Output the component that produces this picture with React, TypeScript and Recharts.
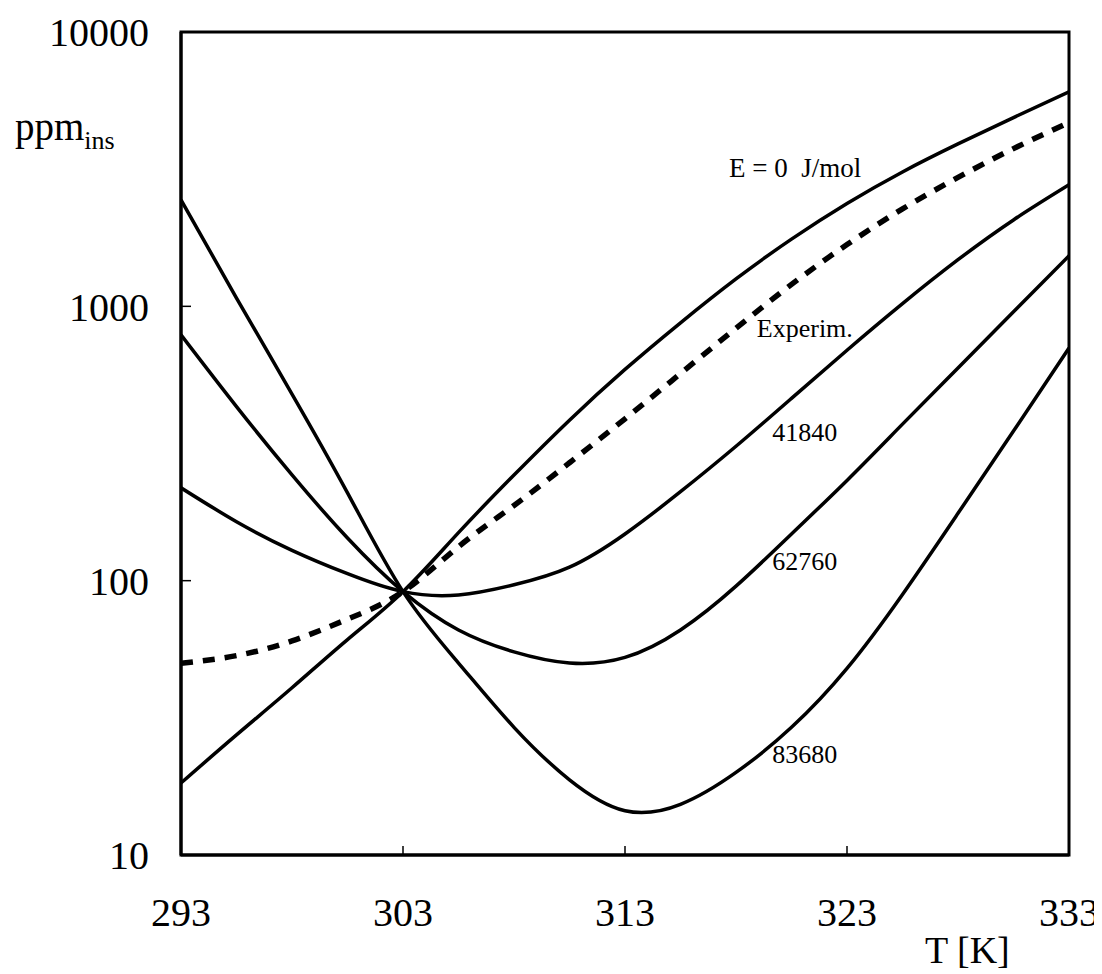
import React from 'react';
import { LineChart, Line, XAxis, YAxis, ReferenceArea, ReferenceDot } from 'recharts';

const temps = [293, 295.5, 298, 300.5, 303, 305.5, 308, 310.5, 313, 315.5, 318, 320.5, 323, 325.5, 328, 330.5, 333];
const e0 = [18.3, 27.4, 40.7, 61, 91.2, 149.6, 242.7, 384.6, 588.8, 871, 1259, 1758, 2371, 3090, 3908, 4875, 6053];
const experim = [50, 53.3, 60.3, 72.4, 91.2, 133, 188, 269, 389, 569, 832, 1202, 1679, 2265, 2951, 3758, 4677];
const e41840 = [218, 164, 129, 106, 91.2, 88.7, 96.6, 112, 148, 211, 309, 462, 692, 1023, 1479, 2065, 2773];
const e62760 = [787, 431, 243, 143, 91.2, 66.1, 55, 50.1, 52.5, 66.1, 95.5, 148, 232, 372, 596, 955, 1528];
const e83680 = [2443, 1072, 479, 209, 91.2, 50.1, 29.2, 18.8, 14.5, 15.3, 20, 29.2, 47.9, 89.1, 176, 351, 705];

const xTicks = [293, 303, 313, 323, 333];
const yTicks = [10, 100, 1000, 10000];

const data = temps.map((t, i) => ({
  T: t,
  e0: e0[i],
  experim: experim[i],
  e41840: e41840[i],
  e62760: e62760[i],
  e83680: e83680[i],
}));

const FONT = '"Liberation Serif", "Times New Roman", serif';

const YLabel = (props: any) => {
  const vb = props.viewBox || { x: 0, y: 0 };
  return (
    <text x={vb.x + 7} y={vb.y + 108} fontFamily={FONT} fontSize={39} fill="#000">
      ppm
      <tspan fontSize={26} dy={9}>ins</tspan>
    </text>
  );
};

const XLabel = (props: any) => {
  const vb = props.viewBox || { x: 0, y: 0 };
  return (
    <text x={vb.x + 744} y={vb.y + 108} fontFamily={FONT} fontSize={38} fill="#000">
      T [K]
    </text>
  );
};

const lbl = (value: string, size: number) => ({
  value,
  position: 'center' as const,
  fontSize: size,
  fill: '#000',
  fontFamily: FONT,
});

export default function App() {
  return (
    <LineChart
      width={1094}
      height={966}
      data={data}
      margin={{ top: 24, right: 33, bottom: 0, left: 0 }}
      style={{ fontFamily: FONT }}
    >
      <XAxis
        dataKey="T"
        type="number"
        domain={[293, 333]}
        ticks={xTicks}
        allowDataOverflow
        height={119}
        stroke="#000"
        strokeWidth={3}
        tickSize={-9}
        tickMargin={52}
        tick={{ fill: '#000', fontSize: 40, fontFamily: FONT }}
        tickLine={{ stroke: '#000', strokeWidth: 1.5 }}
        label={<XLabel />}
      />
      <YAxis
        type="number"
        scale="log"
        domain={[10, 10000]}
        ticks={yTicks}
        allowDataOverflow
        width={173}
        stroke="#000"
        strokeWidth={3}
        tickSize={-10}
        tickMargin={42}
        tick={{ fill: '#000', fontSize: 40, fontFamily: FONT }}
        tickLine={{ stroke: '#000', strokeWidth: 1.5 }}
        label={<YLabel />}
      />
      <ReferenceArea x1={293} x2={333} y1={10} y2={10000} fill="none" stroke="#000" strokeWidth={3} />
      <Line type="natural" dataKey="e0" stroke="#000" strokeWidth={3.5} dot={false} isAnimationActive={false} />
      <Line type="natural" dataKey="experim" stroke="#000" strokeWidth={5.5} strokeDasharray="12 10" dot={false} isAnimationActive={false} />
      <Line type="natural" dataKey="e41840" stroke="#000" strokeWidth={3.5} dot={false} isAnimationActive={false} />
      <Line type="natural" dataKey="e62760" stroke="#000" strokeWidth={3.5} dot={false} isAnimationActive={false} />
      <Line type="natural" dataKey="e83680" stroke="#000" strokeWidth={3.5} dot={false} isAnimationActive={false} />
      <ReferenceDot x={320.66} y={3199} r={0} stroke="none" label={lbl('E = 0\u00a0\u00a0J/mol', 27)} />
      <ReferenceDot x={321.1} y={834} r={0} stroke="none" label={lbl('Experim.', 26)} />
      <ReferenceDot x={321.1} y={348} r={0} stroke="none" label={lbl('41840', 26)} />
      <ReferenceDot x={321.1} y={118} r={0} stroke="none" label={lbl('62760', 26)} />
      <ReferenceDot x={321.1} y={23.3} r={0} stroke="none" label={lbl('83680', 26)} />
    </LineChart>
  );
}
